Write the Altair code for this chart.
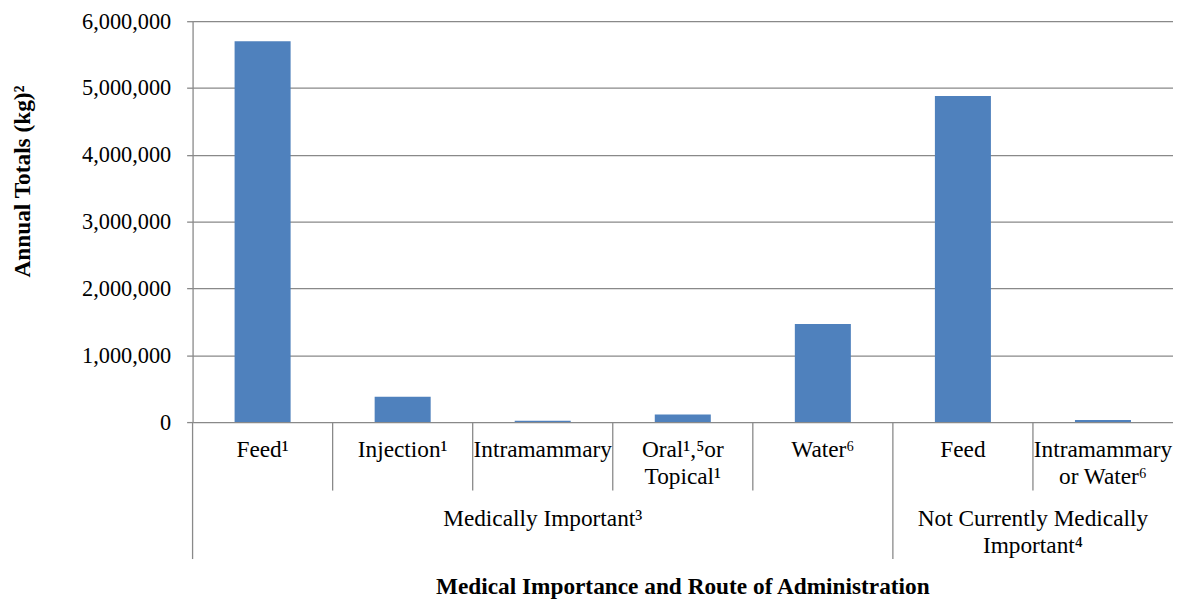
import altair as alt
import pandas as pd

# ---- data ----
keys = ["mi_feed", "mi_inj", "mi_intra", "mi_oral", "mi_water", "nmi_feed", "nmi_intra"]
routes = ["Feed¹", "Injection¹", "Intramammary", "Oral¹,⁵or\nTopical¹", "Water⁶",
          "Feed", "Intramammary\nor Water⁶"]
values = [5700000, 380000, 20000, 115000, 1470000, 4880000, 30000]
separator = ["long", "short", "short", "short", "short", "long", "short"]

group_labels = ["Medically Important³", "Not Currently Medically\nImportant⁴"]
group_anchor_keys = ["mi_intra", "nmi_intra"]
group_anchor_pos = ["center", "start"]

y_ticks = [0, 1000000, 2000000, 3000000, 4000000, 5000000, 6000000]
y_title = "Annual Totals (kg)²"
x_title = "Medical Importance and Route of Administration"

df = pd.DataFrame({"key": keys, "route": routes, "value": values, "sep": separator})
gdf = pd.DataFrame({"key": group_anchor_keys, "label": group_labels, "pos": group_anchor_pos})
tdf = pd.DataFrame({"t": [x_title]})

W, H = 988, 404
FONT = "Liberation Serif"
GRAY = "#898989"
BLUE = "#4F81BD"
FS = 23.5

xscale = alt.Scale(domain=keys, paddingInner=0, paddingOuter=0)

bars = alt.Chart(df).mark_bar(color=BLUE, width={"band": 0.4}).encode(
    x=alt.X("key:N", scale=xscale, axis=None),
    y=alt.Y(
        "value:Q",
        scale=alt.Scale(domain=[0, 6000000], nice=False),
        axis=alt.Axis(
            values=y_ticks, format=",d", grid=True, gridColor=GRAY, gridWidth=1.3,
            domainColor=GRAY, domainWidth=1.3, tickColor=GRAY, tickWidth=1.3, tickSize=6,
            labelFont=FONT, labelFontSize=22.5, labelColor="#000000", labelPadding=16,
            title=y_title, titleFont=FONT, titleFontSize=FS, titleFontWeight="bold",
            titleColor="#000000", titleX=-171, titleY=161, titleAlign="center",
            titleBaseline="middle", titleAngle=270,
        ),
    ),
)

seps_short = alt.Chart(df).transform_filter(alt.datum.sep == "short").mark_rule(
    color=GRAY, strokeWidth=1.3
).encode(
    x=alt.X("key:N", scale=xscale, axis=None, bandPosition=0),
    y=alt.value(H), y2=alt.value(H + 69),
)

seps_long = alt.Chart(df).transform_filter(alt.datum.sep == "long").mark_rule(
    color=GRAY, strokeWidth=1.3
).encode(
    x=alt.X("key:N", scale=xscale, axis=None, bandPosition=0),
    y=alt.value(H), y2=alt.value(H + 138),
)

sub_labels = alt.Chart(df).mark_text(
    font=FONT, fontSize=FS, baseline="top", align="center", lineBreak="\n",
    lineHeight=27, color="#000000"
).encode(
    x=alt.X("key:N", scale=xscale, axis=None),
    y=alt.value(420),
    text="route:N",
)

grp_center = alt.Chart(gdf).transform_filter(alt.datum.pos == "center").mark_text(
    font=FONT, fontSize=FS, baseline="top", align="center", lineBreak="\n",
    lineHeight=27, color="#000000"
).encode(
    x=alt.X("key:N", scale=xscale, axis=None),
    y=alt.value(490),
    text="label:N",
)

grp_start = alt.Chart(gdf).transform_filter(alt.datum.pos == "start").mark_text(
    font=FONT, fontSize=FS, baseline="top", align="center", lineBreak="\n",
    lineHeight=27, color="#000000"
).encode(
    x=alt.X("key:N", scale=xscale, axis=None, bandPosition=0),
    y=alt.value(490),
    text="label:N",
)

xtitle = alt.Chart(tdf).mark_text(
    font=FONT, fontSize=FS, fontWeight="bold", baseline="alphabetic", align="center",
    color="#000000"
).encode(
    x=alt.value(W / 2), y=alt.value(577), text="t:N"
)

chart = alt.layer(
    bars, seps_short, seps_long, sub_labels, grp_center, grp_start, xtitle
).properties(
    width=W, height=H,
    autosize=alt.AutoSizeParams(type="none"),
    padding={"left": 186, "top": 11, "right": 0, "bottom": 180},
).configure_view(stroke=None)

chart.save("out.html", embed_options={"renderer": "svg", "actions": False})
